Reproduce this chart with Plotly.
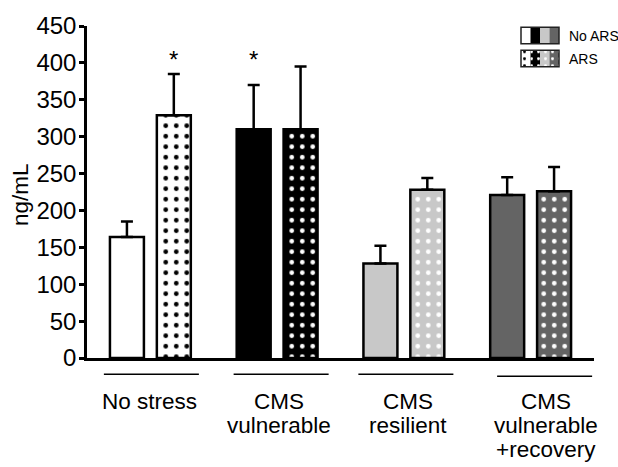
import plotly.graph_objects as go

# ---------------- data ----------------
categories = ["No stress", "CMS<br>vulnerable", "CMS<br>resilient", "CMS<br>vulnerable<br>+recovery"]
series_names = ["No ARS", "ARS"]
no_ars_mean = [164, 310, 128, 221]
no_ars_err = [21, 60, 24, 24]
ars_mean = [329, 310, 228, 226]
ars_err = [56, 85, 16, 33]
no_ars_sig = ["", "*", "", ""]
ars_sig = ["*", "", "", ""]
y_ticks = [0, 50, 100, 150, 200, 250, 300, 350, 400, 450]
group_colors = ["#ffffff", "#000000", "#c8c8c8", "#646464"]
dot_colors = ["#000000", "#ffffff", "#ffffff", "#ffffff"]

# ---------------- layout constants ----------------
W, H = 618, 467
L, R, T, B = 87, 24, 21, 109
PW, PH = W - L - R, H - T - B
FONT = "Liberation Sans, Arial, sans-serif"


def pxx(px):
    return (px - L) / PW


def pxy(py):
    return (H - B - py) / PH


unit_px = PW / len(categories)
bar_w = 0.268
half_sep = 0.185
label_shift_px = [-1, 2, 4, 15]
underline_shift_px = [1, 4, 2, 14]
underline_half_px = 47.5
underline_y_px = [374.5, 374.5, 374.5, 376.5]
line_y_px = [402, 426.5, 451]

idx = list(range(len(categories)))

fig = go.Figure()

err_style = dict(type="data", symmetric=False, color="black", thickness=2.5, width=6)

fig.add_trace(go.Bar(
    x=idx, y=no_ars_mean, name=series_names[0], width=bar_w,
    offset=-half_sep - bar_w / 2,
    marker=dict(color=group_colors, line=dict(color="black", width=2.5)),
    error_y=dict(array=no_ars_err, arrayminus=[0] * len(idx), **err_style),
    showlegend=False, xaxis="x", yaxis="y",
))
for i in idx:
    fig.add_trace(go.Bar(
        x=[i], y=[ars_mean[i]], name=series_names[1], width=bar_w,
        offset=half_sep - bar_w / 2,
        marker=dict(color=group_colors[i], line=dict(color="black", width=2.5),
                    pattern=dict(shape=".", bgcolor=group_colors[i], fgcolor=dot_colors[i],
                                 fgopacity=1, size=10.5, solidity=0.16)),
        error_y=dict(array=[ars_err[i]], arrayminus=[0], **err_style),
        showlegend=False, xaxis="x", yaxis="y",
    ))

# legend swatches drawn as tiny bar strips in an inset subplot
sw_h = 16.7
fig.add_trace(go.Bar(
    x=idx, y=[sw_h] * 4, base=[40 - sw_h] * 4, width=1, offset=-0.5,
    marker=dict(color=group_colors, line=dict(width=0)),
    showlegend=False, xaxis="x2", yaxis="y2", hoverinfo="skip",
))
for i in idx:
    fig.add_trace(go.Bar(
        x=[i], y=[sw_h], base=[0], width=1, offset=-0.5,
        marker=dict(color=group_colors[i], line=dict(width=0),
                    pattern=dict(shape=".", bgcolor=group_colors[i], fgcolor=dot_colors[i],
                                 fgopacity=1, size=7, solidity=0.14)),
        showlegend=False, xaxis="x2", yaxis="y2", hoverinfo="skip",
    ))

annotations = []
shapes = []

star_font = dict(family=FONT, size=24, color="black")
for i in idx:
    if no_ars_sig[i]:
        annotations.append(dict(x=i - half_sep, y=404, xref="x", yref="y", text=no_ars_sig[i],
                                showarrow=False, font=star_font, yanchor="middle"))
    if ars_sig[i]:
        annotations.append(dict(x=i + half_sep, y=404, xref="x", yref="y", text=ars_sig[i],
                                showarrow=False, font=star_font, yanchor="middle"))

# category labels and underlines
for i, cat in enumerate(categories):
    cx = L + (i + 0.5) * unit_px
    for j, line in enumerate(cat.split("<br>")):
        annotations.append(dict(x=pxx(cx + label_shift_px[i]), y=pxy(line_y_px[j]),
                                xref="paper", yref="paper", text=line, showarrow=False,
                                xanchor="center", yanchor="middle",
                                font=dict(family=FONT, size=22.5, color="black")))
    ux = cx + underline_shift_px[i]
    shapes.append(dict(type="line", xref="paper", yref="paper",
                       x0=pxx(ux - underline_half_px), x1=pxx(ux + underline_half_px),
                       y0=pxy(underline_y_px[i]), y1=pxy(underline_y_px[i]),
                       line=dict(color="black", width=1.6)))

# y axis title
annotations.append(dict(x=pxx(21), y=pxy(192.5), xref="paper", yref="paper", text="ng/mL",
                        textangle=-90, showarrow=False, xanchor="center", yanchor="middle",
                        font=dict(family=FONT, size=22.5, color="black")))

# legend text and swatch borders
leg_x0, leg_x1 = 521, 559
leg_rows = [(22.3, 39.0), (45.7, 62.3)]
for (y0, y1), name in zip(leg_rows, series_names):
    shapes.append(dict(type="rect", xref="paper", yref="paper",
                       x0=pxx(leg_x0), x1=pxx(leg_x1), y0=pxy(y1), y1=pxy(y0),
                       line=dict(color="#222222", width=1.5), fillcolor="rgba(0,0,0,0)"))
    annotations.append(dict(x=pxx(567), y=pxy((y0 + y1) / 2), xref="paper", yref="paper",
                            text=name, showarrow=False, xanchor="left", yanchor="middle",
                            font=dict(family=FONT, size=14, color="black")))

fig.update_layout(
    width=W, height=H, autosize=False,
    margin=dict(l=L, r=R, t=T, b=B, pad=0),
    paper_bgcolor="white", plot_bgcolor="white",
    barmode="overlay",
    font=dict(family=FONT, color="black"),
    xaxis=dict(range=[-0.5, 3.5], showticklabels=False, ticks="", showline=True,
               linewidth=2.5, linecolor="black", showgrid=False, zeroline=False,
               fixedrange=True),
    yaxis=dict(range=[0, 450], tickvals=y_ticks, ticks="outside", ticklen=5, tickwidth=2.5,
               tickcolor="black", showline=True, linewidth=2.5, linecolor="black",
               showgrid=False, zeroline=False, ticklabelstandoff=-2,
               tickfont=dict(family=FONT, size=24, color="black"),
               fixedrange=True),
    xaxis2=dict(domain=[pxx(leg_x0), pxx(leg_x1)], range=[-0.5, 3.5], anchor="y2",
                visible=False, fixedrange=True),
    yaxis2=dict(domain=[pxy(62.3), pxy(22.3)], range=[0, 40], anchor="x2",
                visible=False, fixedrange=True),
    annotations=annotations,
    shapes=shapes,
)

fig.write_html("out.html")
